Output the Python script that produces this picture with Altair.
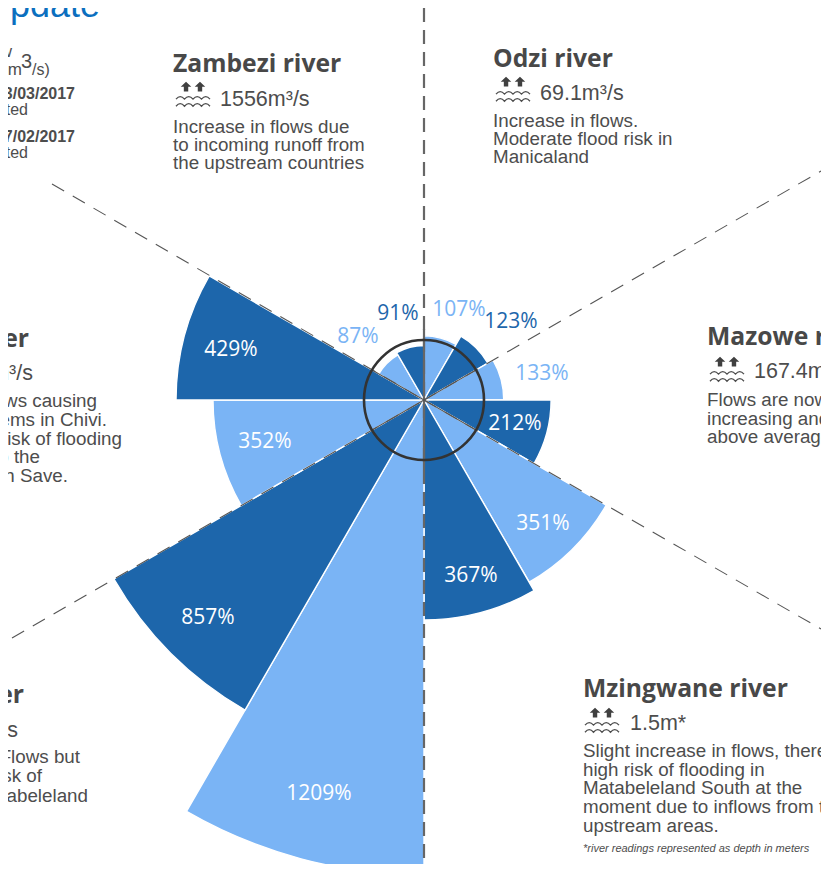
import altair as alt
import pandas as pd
import math

# ---------- values ----------
pct_labels = [107, 123, 133, 212, 351, 367, 1209, 857, 352, 429, 87, 91]
groups = ["light", "dark", "light", "dark", "light", "dark", "light", "dark", "light", "dark", "light", "dark"]
wedge_deg = 30

W, H = 813, 856
OX, OY = 8, 8            # page margin: reference px -> chart px
CX, CY = 424 - OX, 400 - OY
LIGHT, DARK = "#7AB4F5", "#1D66AB"
GREY, MID = "#4D4D4D", "#555555"

starts = [i * wedge_deg for i in range(len(pct_labels))]
ends = [s + wedge_deg for s in starts]
df = pd.DataFrame({"start": starts, "end": ends, "pct": pct_labels, "group": groups})

wedges = alt.Chart(df).mark_arc(stroke="white", strokeWidth=1.4).encode(
    x=alt.value(CX), y=alt.value(CY),
    theta=alt.Theta("start:Q", scale=alt.Scale(domain=[0, 360], range=[0, 2 * math.pi])),
    theta2="end:Q",
    radius=alt.Radius("pct:Q", scale=alt.Scale(domain=[0, 367, 429, 857, 1209], range=[0, 220, 248, 358, 475])),
    color=alt.Color("group:N", scale=alt.Scale(domain=["light", "dark"], range=[LIGHT, DARK]), legend=None),
)

one = pd.DataFrame({"a": [0]})
layers = [wedges]


def rule(x1, y1, x2, y2, color=MID, width=1.0, dash=None):
    kw = {"color": color, "strokeWidth": width}
    if dash:
        kw["strokeDash"] = dash
    return alt.Chart(one).mark_rule(**kw).encode(
        x=alt.value(x1 - OX), y=alt.value(y1 - OY), x2=alt.value(x2 - OX), y2=alt.value(y2 - OY))


def text(s, x, y, size=18.8, color=GREY, font="Liberation Sans", weight="normal", align="left", style="normal"):
    return alt.Chart(pd.DataFrame({"t": [s]})).mark_text(
        align=align, baseline="alphabetic", fontSize=size, color=color, font=font,
        fontWeight=weight, fontStyle=style).encode(
        x=alt.value(x - OX), y=alt.value(y - OY), text="t:N")


# spokes
layers += [
    rule(424, 8, 424, 864, "#666666", 2.2, [14, 8]),
    rule(424, 400, 424, 329, "#666666", 2.2),
    rule(424, 400, 424, 470, "#666666", 2.2),
    rule(52, 184, 424, 400, MID, 1.1, [14, 10]),
    rule(424, 400, 821, 171, MID, 1.1, [14, 10]),
    rule(12, 638, 424, 400, MID, 1.1, [14, 10]),
    rule(424, 400, 821, 629, MID, 1.1, [14, 10]),
    rule(424, 400, 372, 370, MID, 1.1),
    rule(424, 400, 476, 370, MID, 1.1),
    rule(424, 400, 372, 430, MID, 1.1),
    rule(424, 400, 476, 430, MID, 1.1),
]

# 100 % ring
layers.append(alt.Chart(one).mark_point(shape="circle", filled=False, opacity=1, stroke="#333333", strokeWidth=2.6).encode(
    x=alt.value(CX), y=alt.value(CY), size=alt.value(120 ** 2)))

# percentage labels
label_font = "Open Sans"
label_pos = [(459, 316, LIGHT), (511, 328, DARK), (542, 380, LIGHT), (515, 430, "white"),
             (543, 530, "white"), (471, 582, "white"), (319, 800, "white"), (208, 624, "white"),
             (265, 448, "white"), (231, 356, "white"), (358, 343, LIGHT), (398, 320, DARK)]
for v, (x, y, c) in zip(pct_labels, label_pos):
    layers.append(text(f"{v}%", x, y, size=21, color=c, font=label_font, align="center"))

# flood icons
WAVE = "M-1 .3 Q-.75 0 -.5 .3 Q-.25 0 0 .3 Q.25 0 .5 .3 Q.75 0 1 .3 M-1 .72 Q-.75 .42 -.5 .72 Q-.25 .42 0 .72 Q.25 .42 .5 .72 Q.75 .42 1 .72"
ARROWS = ("M-.41 -.72 L-.1 -.42 L-.28 -.42 L-.28 -.14 L-.54 -.14 L-.54 -.42 L-.72 -.42Z "
          "M.41 -.72 L.72 -.42 L.54 -.42 L.54 -.14 L.28 -.14 L.28 -.42 L.1 -.42Z")
for ix, iy in [(193, 94), (513, 89), (727, 369), (602, 720)]:
    layers.append(alt.Chart(one).mark_point(shape=WAVE, filled=False, opacity=1, stroke=GREY, strokeWidth=1.3).encode(
        x=alt.value(ix - OX), y=alt.value(iy - OY), size=alt.value(34 ** 2)))
    layers.append(alt.Chart(one).mark_point(shape=ARROWS, filled=True, opacity=1, fill="#404040", strokeWidth=0).encode(
        x=alt.value(ix - OX), y=alt.value(iy - OY), size=alt.value(34 ** 2)))

TITLE = dict(size=24.7, font="Open Sans", weight="bold", color="#484848")
VAL = dict(size=21.5)

# Zambezi
layers += [text("Zambezi river", 173, 72, **TITLE), text("1556m³/s", 220, 106, **VAL),
           text("Increase in flows due", 173, 132.5), text("to incoming runoff from", 173, 150.5),
           text("the upstream countries", 173, 169)]
# Odzi
layers += [text("Odzi river", 493, 67, **TITLE), text("69.1m³/s", 540, 100, **VAL),
           text("Increase in flows.", 493, 126.5), text("Moderate flood risk in", 493, 145),
           text("Manicaland", 493, 163)]
# Mazowe
layers += [text("Mazowe river", 707, 345, **TITLE), text("167.4m³/s", 754, 378, **VAL),
           text("Flows are now", 707, 406), text("increasing and", 707, 424.5), text("above average", 707, 443)]
# Mzingwane
layers += [text("Mzingwane river", 583, 697, **TITLE), text("1.5m*", 630, 730, **VAL),
           text("Slight increase in flows, there", 583, 757), text("high risk of flooding in", 583, 775.5),
           text("Matabeleland South at the", 583, 794), text("moment due to inflows from the", 583, 812.5),
           text("upstream areas.", 583, 831.5),
           text("*river readings represented as depth in meters", 583, 852, size=11, style="italic")]
# left, cropped river (Chivi)
layers += [text("ver", 29, 347, align="right", **TITLE), text("m³/s", 33, 380, align="right", **VAL),
           text("ows causing", 97, 407, align="right"), text("ems in Chivi.", 107, 426, align="right"),
           text("risk of flooding", 122, 445, align="right"), text("o the", 40, 463, align="right"),
           text("th Save.", 68, 482, align="right")]
# left, cropped river (Matabeleland)
layers += [text("er", 24, 703, align="right", **TITLE), text("/s", 18, 737, align="right", **VAL),
           text("Flows but", 80, 763, align="right"), text("risk of", 42, 782, align="right"),
           text("atabeleland", 88, 802, align="right")]
# header + key
layers += [text("Update", 100, 17, size=36, color="#0B6FBF", align="right"),
           text("w", 12, 57, size=17, align="right"), text("m", 22, 75, size=17, align="right"), text("3", 32, 68, size=20, align="right"),
           text("/s)", 32, 75, size=16),
           text("03/03/2017", 75, 99, size=16, weight="bold", align="right"), text("cted", 28, 115, size=16, align="right"),
           text("27/02/2017", 75, 142, size=16, weight="bold", align="right"), text("cted", 28, 158, size=16, align="right")]

chart = alt.layer(*layers).properties(width=W, height=H, padding=0, autosize=alt.AutoSizeParams(type="none")).configure_view(stroke=None)
chart.save("out.html", embed_options={"renderer": "svg", "actions": False})
